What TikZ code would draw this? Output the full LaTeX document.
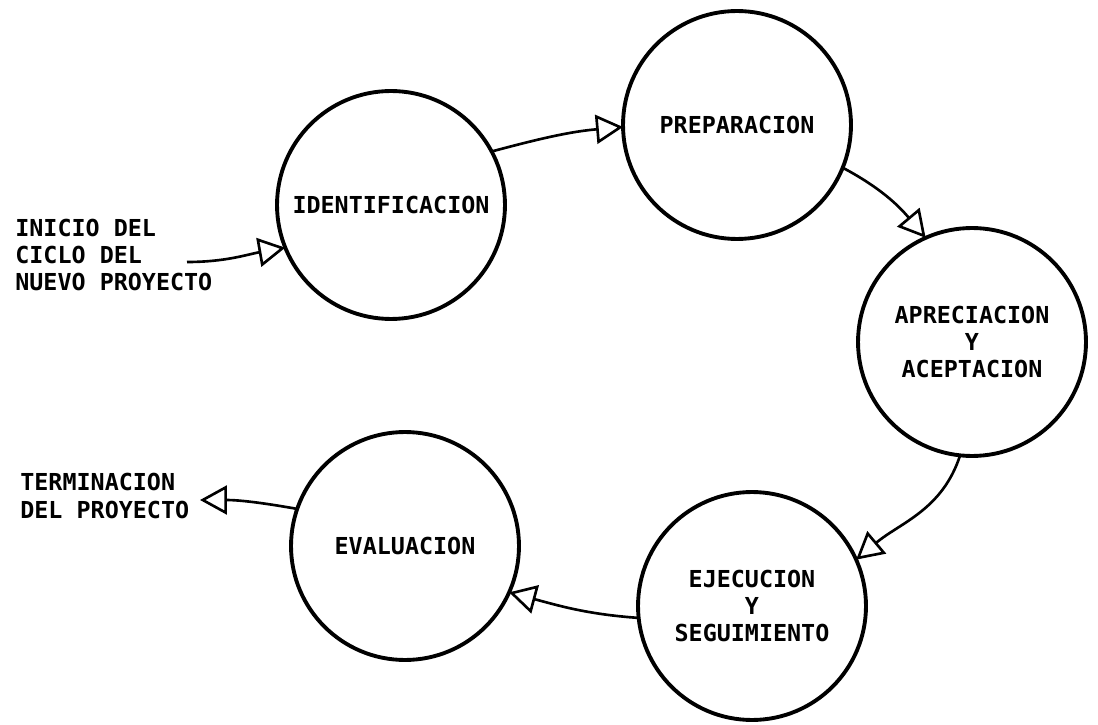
\documentclass[tikz,border=0pt]{standalone}
\usepackage{fontspec}
\setmonofont{DejaVu Sans Mono}
\usepackage{tikz}
\usetikzlibrary{arrows.meta}
\tikzset{
	stage/.style={draw,circle,line width=2.2pt,minimum size=4.56cm,inner sep=0pt,outer sep=0pt,align=center},
	flow/.style={line width=1.5pt,-{Triangle[open,length=5.4mm,width=5.8mm,line width=1.5pt]}},
	caption/.style={inner sep=0pt,align=left,anchor=west}
}

\begin{document}
\begin{tikzpicture}[x=0.02cm,y=0.02cm,font=\fontsize{13.3}{15.4}\selectfont\ttfamily\bfseries]
  \useasboundingbox (0,0) rectangle (1098,724);
  \node [stage] (ident) at (391,519) {IDENTIFICACION};
  \node [stage] (prep) at (737,599) {PREPARACION};
  \node [stage] (aprec) at (972,382) {APRECIACION\\Y\\ACEPTACION};
  \node [stage] (ejec) at (752,118) {EJECUCION\\Y\\SEGUIMIENTO};
  \node [stage] (eval) at (405,178) {EVALUACION};
  \node [caption] (inicio) at (15,469) {INICIO DEL\\CICLO DEL\\NUEVO PROYECTO};
  \node [caption] (termin) at (20,228) {TERMINACION\\DEL PROYECTO};
  \coordinate (start) at (187,462);
  \coordinate (finish) at (200,224);
  % ciclo del proyecto
  \draw [flow] (start) to[out=0,in=190] (ident.202);
  \draw [flow] (ident.28) to[out=15,in=185] (prep.181);
  \draw [flow] (prep.338) to[out=-28,in=130] (aprec.114);
  \draw [flow] (aprec.264) to[out=252,in=40] (ejec.24);
  \draw [flow] (ejec.186) to[out=176,in=-15] (eval.336);
  \draw [flow] (eval.161) to[out=170,in=0] (finish);
\end{tikzpicture}
\end{document}
